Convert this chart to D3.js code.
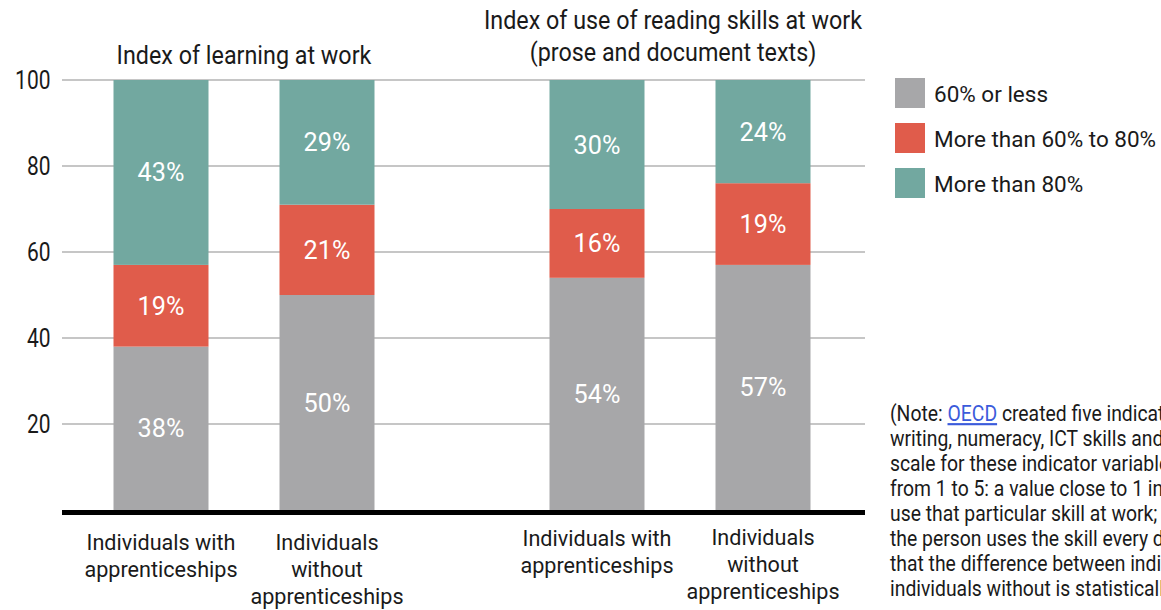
<!DOCTYPE html>
<html><head><meta charset="utf-8">
<script src="https://cdn.jsdelivr.net/npm/d3@7"></script>
<style>
body{margin:0;background:#fff;overflow:hidden}
svg text{font-family:"Roboto",sans-serif;}
</style></head>
<body><svg id="c" width="1161" height="610"></svg>
<script>
const groups = ["learning", "reading"];
const groupTitles = [["Index of learning at work"], ["Index of use of reading skills at work", "(prose and document texts)"]];
const subgroups = ["with", "without"];
const subLabels = [["Individuals with", "apprenticeships"], ["Individuals", "without", "apprenticeships"]];
const seriesNames = ["60% or less", "More than 60% to 80%", "More than 80%"];
const seriesColors = ["#a7a7a9", "#e05c4b", "#72a8a0"];
// values per bar: [learning-with, learning-without, reading-with, reading-without]
const low = [38, 50, 54, 57];
const mid = [19, 21, 16, 19];
const high = [43, 29, 30, 24];
const yTicks = [20, 40, 60, 80, 100];
const noteLines = [
  "(Note: OECD created five indicators of skill use at work: reading,",
  "writing, numeracy, ICT skills and problem solving. The",
  "scale for these indicator variables ranges",
  "from 1 to 5: a value close to 1 indicates the person doesn't",
  "use that particular skill at work; a value of 5 means",
  "the person uses the skill every day. Asterisks indicate",
  "that the difference between individuals with apprenticeships and",
  "individuals without is statistically significant.)"
];

const svg = d3.select("#c");
const ink = "#1a1a1a";
// condensed-text helper
function ctext(parent, x, y, size, sx, anchor, str, fill) {
  return parent.append("text")
    .attr("transform", `translate(${x},${y}) scale(${sx},1)`)
    .attr("font-size", size).attr("text-anchor", anchor || "start")
    .attr("fill", fill || ink).text(str);
}

const y = d3.scaleLinear().domain([0, 100]).range([510, 80]);
const x0 = d3.scaleBand().domain(groups).range([26, 898]);
const pi = 71/166;
const x1 = d3.scaleBand().domain(subgroups).range([52, 384]).paddingInner(pi).paddingOuter(pi/2);

// gridlines
svg.append("g").selectAll("line").data(yTicks).join("line")
  .attr("x1", 62).attr("x2", 865)
  .attr("y1", d => y(d)).attr("y2", d => y(d))
  .attr("stroke", "#b3b3b3").attr("stroke-width", 1.5);
// y tick labels
const yg = svg.append("g");
yTicks.forEach(d => ctext(yg, 50.5, y(d) + 9, 25, 0.84, "end", d));

// bars
const bars = [];
groups.forEach((g, gi) => subgroups.forEach((s, si) => {
  const i = gi * 2 + si;
  const vals = [low[i], mid[i], high[i]];
  let acc = 0;
  vals.forEach((v, k) => {
    bars.push({g, s, k, y0: acc, y1: acc + v, v});
    acc += v;
  });
}));
const bx = d => x0(d.g) + x1(d.s);
svg.append("g").selectAll("rect").data(bars).join("rect")
  .attr("x", bx).attr("width", x1.bandwidth())
  .attr("y", d => y(d.y1)).attr("height", d => y(d.y0) - y(d.y1))
  .attr("fill", d => seriesColors[d.k]);
const lbl = svg.append("g");
bars.forEach(d => ctext(lbl, bx(d) + x1.bandwidth()/2, (y(d.y0) + y(d.y1))/2 + 9, 26, 0.97, "middle", d.v + "%", "#fff"));

// baseline
svg.append("line").attr("x1", 62).attr("x2", 865).attr("y1", 512.5).attr("y2", 512.5)
  .attr("stroke", "#000").attr("stroke-width", 5);

// titles and x labels
const titleShift = [0, -7];
groups.forEach((g, gi) => {
  const lines = groupTitles[gi];
  const cx = x0(g) + x0.bandwidth()/2 + titleShift[gi];
  const startY = lines.length === 1 ? 64 : 29;
  lines.forEach((t, li) => ctext(svg, cx, startY + li * 32, 26.5, 0.88, "middle", t));
  subgroups.forEach((s, si) => {
    const cxs = x0(g) + x1(s) + x1.bandwidth()/2;
    subLabels[si].forEach((t, li) => ctext(svg, cxs, 550 - gi * 4 + li * 27 - (gi && si ? 1 : 0), 22.5, 0.96, "middle", t));
  });
});

// legend
const lg = svg.append("g");
seriesNames.forEach((n, i) => {
  const ly = 78 + i * 45;
  lg.append("rect").attr("x", 895).attr("y", ly).attr("width", 30).attr("height", 30).attr("fill", seriesColors[i]);
  ctext(lg, 934, ly + 24, 22.5, 1.0, "start", n);
});

// note
noteLines.forEach((l, i) => {
  const t = ctext(svg, 890, 421 + i * 25, 21.5, 0.9, "start", null);
  if (i === 0) {
    t.append("tspan").text("(Note: ");
    t.append("tspan").attr("fill", "#3b5bdb").attr("text-decoration", "underline").text("OECD");
    t.append("tspan").text(l.slice(11));
  } else t.text(l);
});
</script></body></html>
